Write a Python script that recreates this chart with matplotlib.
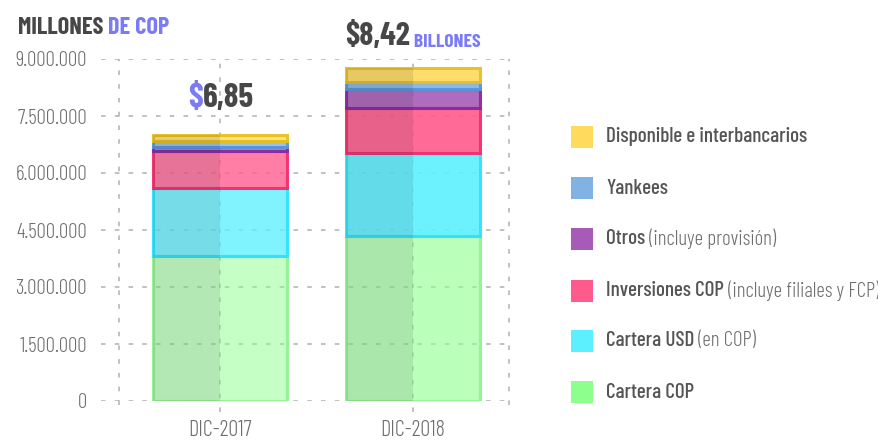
import matplotlib
matplotlib.use('Agg')
import matplotlib.pyplot as plt
from matplotlib.colors import to_rgba
from matplotlib.patches import Rectangle
from matplotlib.ticker import FuncFormatter

# ---------------- data ----------------
categories = ['DIC-2017', 'DIC-2018']
cartera_cop = [3.82e6, 4.33e6]
cartera_usd = [1.78e6, 2.20e6]
inversiones_cop = [0.98e6, 1.18e6]
otros = [0.10e6, 0.51e6]
yankees = [0.15e6, 0.17e6]
disponible = [0.18e6, 0.38e6]
y_ticks = [0, 1.5e6, 3.0e6, 4.5e6, 6.0e6, 7.5e6, 9.0e6]
total_labels = ['6,85', '8,42']

# ---------------- style ----------------
FONT = ['Barlow Condensed', 'Roboto Condensed', 'Oswald', 'DejaVu Sans']
plt.rcParams['font.family'] = FONT
DARK = '#474747'
GRAY = '#6e6e6e'
PERI = '#7b7bf5'
GRID = '#b0b0b0'

# series bottom -> top: (name, values, face, edge, bold label, light label)
series = [
    ('Cartera COP', cartera_cop, '#8cff8c', '#94f294', 'Cartera COP', ''),
    ('Cartera USD', cartera_usd, '#5cf0ff', '#30e2fb', 'Cartera USD', ' (en COP)'),
    ('Inversiones', inversiones_cop, '#ff5a8c', '#f0306e', 'Inversiones COP', ' (incluye filiales y FCP)'),
    ('Otros', otros, '#a75bb6', '#8a2aa0', 'Otros', ' (incluye provisión)'),
    ('Yankees', yankees, '#82b1e3', '#5a96dc', 'Yankees', ''),
    ('Disponible', disponible, '#ffda5c', '#e8c020', 'Disponible e interbancarios', ''),
]
bar_alpha = [0.78, 0.9]
green_alpha = [0.5, 0.6]

W, H = 879, 441
fig = plt.figure(figsize=(W / 100, H / 100), dpi=100)


def fp(x, y):
    return (x / W, 1 - y / H)


ax = fig.add_axes([101 / W, 1 - 401 / H, 409 / W, 342 / H])
ax.set_xlim(-0.617, 1.503)
ax.set_ylim(0, 9e6)

xs = list(range(len(categories)))
width = 0.694

# bars
bottoms = [0.0] * len(xs)
for name, vals, face, edge, _, _ in series:
    for i, xv in enumerate(xs):
        a = green_alpha[i] if name == 'Cartera COP' else bar_alpha[i]
        ax.bar(xv, vals[i], bottom=bottoms[i], width=width,
               facecolor=to_rgba(face, a), edgecolor=to_rgba(edge, 0.95),
               linewidth=2.2, zorder=2)
        bottoms[i] += vals[i]

# darker left half of each bar
totals = bottoms
ax.bar([xv - width / 4 for xv in xs], totals, width=width / 2,
       color=(0.1, 0.1, 0.15, 0.10), linewidth=0, zorder=3)

# grid
dash = (0, (3, 6))
ax.set_yticks(y_ticks)
ax.grid(axis='y', color=GRID, linestyle=dash, linewidth=1.1, zorder=1)
ax.set_axisbelow(True)
for xv, y0 in [(-0.523, -0.1e6), (1.5, -0.1e6)] + [(c, -0.3e6) for c in xs]:
    ax.plot([xv, xv], [y0, 9.0e6], color=GRID, linestyle=dash, linewidth=1.1,
            zorder=1.5, clip_on=False)

for s in ax.spines.values():
    s.set_visible(False)
ax.yaxis.set_major_formatter(FuncFormatter(lambda v, p: f'{int(v):,}'.replace(',', '.')))
ax.set_xticks(xs)
ax.set_xticklabels(categories)
ax.tick_params(axis='y', length=0, labelsize=15, labelcolor=GRAY, pad=10)
ax.tick_params(axis='x', length=0, labelsize=16, labelcolor=GRAY, pad=14)
for lab in ax.get_xticklabels() + ax.get_yticklabels():
    lab.set_fontweight(300)

# title
t1 = fig.text(*fp(18, 34), 'MILLONES', fontsize=17.5, fontweight='bold', color=DARK,
              ha='left', va='baseline')
ax.annotate(' DE COP', xy=(1, 0), xycoords=t1, fontsize=17.5, fontweight='bold',
            color=PERI, ha='left', va='bottom', annotation_clip=False)

# total labels
d1 = fig.text(*fp(188, 107), '$', fontsize=24, fontweight='bold', color=PERI,
              ha='left', va='baseline')
ax.annotate(total_labels[0], xy=(1, 0), xycoords=d1, fontsize=24, fontweight='bold',
            color=DARK, ha='left', va='bottom', annotation_clip=False)
d2 = fig.text(*fp(345, 45), '$' + total_labels[1], fontsize=23, fontweight='bold',
              color=DARK, ha='left', va='baseline')
ax.annotate(' BILLONES', xy=(1, 0), xycoords=d2, fontsize=14, fontweight='bold',
            color=PERI, ha='left', va='bottom', annotation_clip=False)

# legend (top -> bottom)
rows_y = [137, 188, 239, 291, 341, 392]
for (name, vals, face, edge, bold, light), yc in zip(series[::-1], rows_y):
    fig.add_artist(Rectangle(fp(571, yc + 11), 22 / W, 22 / H,
                             transform=fig.transFigure, facecolor=face,
                             edgecolor='none'))
    tb = fig.text(*fp(606, yc), bold, fontsize=15.2, fontweight=500, color='#555555',
                  ha='left', va='center')
    if light:
        ax.annotate(light, xy=(1, 0.5), xycoords=tb, fontsize=15.2, fontweight=300,
                    color=GRAY, ha='left', va='center', annotation_clip=False)

fig.savefig('out.png', dpi=100)
